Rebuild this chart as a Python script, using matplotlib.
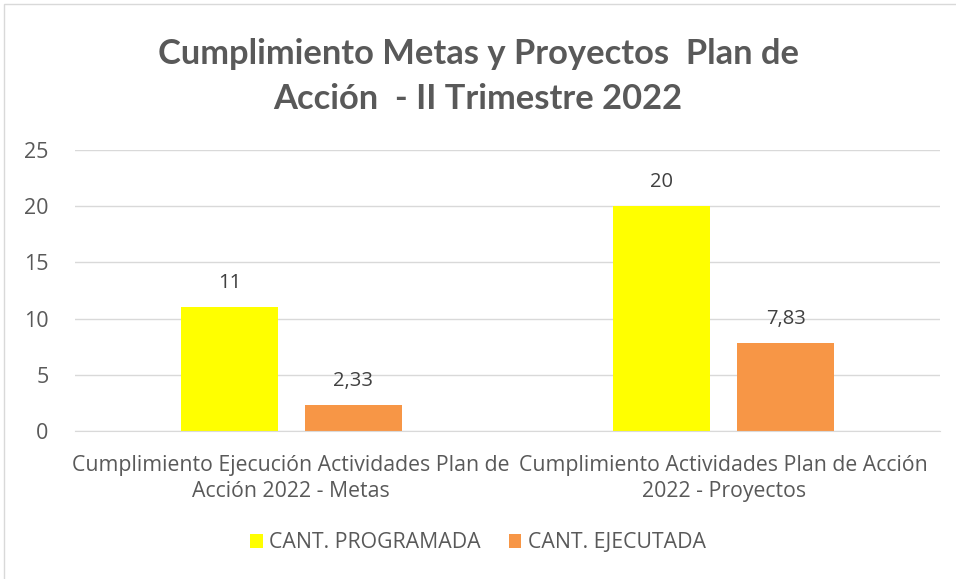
import matplotlib
matplotlib.use("Agg")
import matplotlib.pyplot as plt
import numpy as np

# datos del grafico
categorias = ['Cumplimiento Ejecución Actividades Plan de\nAcción 2022 - Metas',
              'Cumplimiento Actividades Plan de Acción\n2022 - Proyectos']
programada = [11, 20]
ejecutada = [2.33, 7.83]
etiquetas_prog = ['11', '20']
etiquetas_ejec = ['2,33', '7,83']
series = ['CANT. PROGRAMADA', 'CANT. EJECUTADA']
yticks = [0, 5, 10, 15, 20, 25]

gris = '#595959'
plt.rcParams['font.family'] = ['Open Sans', 'DejaVu Sans']

fig = plt.figure(figsize=(9.56, 5.79), dpi=100)
ax = fig.add_axes([75 / 956, 1 - 431 / 579, 865 / 956, 281 / 579])

x = np.arange(len(categorias))
w = 0.224
off = 0.143
b1 = ax.bar(x - off, programada, w, color='#FFFF00', label=series[0])
b2 = ax.bar(x + off, ejecutada, w, color='#F79646', label=series[1])

# etiquetas de valor encima de cada barra
for rect, txt in zip(b1, etiquetas_prog):
    ax.annotate(txt, (rect.get_x() + rect.get_width() / 2, rect.get_height()),
                xytext=(0, 10), textcoords='offset points', ha='center',
                va='bottom', fontsize=14.5, color='#404040')
for rect, txt in zip(b2, etiquetas_ejec):
    ax.annotate(txt, (rect.get_x() + rect.get_width() / 2, rect.get_height()),
                xytext=(0, 10), textcoords='offset points', ha='center',
                va='bottom', fontsize=14.5, color='#404040')

ax.set_xlim(-0.5, 1.5)
ax.set_ylim(0, 25)
ax.set_yticks(yticks)
ax.set_xticks(x)
ax.set_xticklabels(categorias, fontsize=15.3, color=gris, linespacing=1.32)
ax.tick_params(axis='y', labelsize=15.5, labelcolor=gris, length=0, pad=19)
ax.tick_params(axis='x', length=0, pad=17)
ax.grid(axis='y', color='#D9D9D9', linewidth=1)
ax.set_axisbelow(True)
for s in ['top', 'right', 'left']:
    ax.spines[s].set_visible(False)
ax.spines['bottom'].set_color('#D9D9D9')

fig.text(0.5, 1 - 54 / 579, 'Cumplimiento Metas y Proyectos  Plan de',
         ha='center', va='center', fontsize=24.8, fontweight='bold', color=gris,
         family=['Lato', 'DejaVu Sans'])
fig.text(0.5, 1 - 99 / 579, 'Acción  - II Trimestre 2022',
         ha='center', va='center', fontsize=24.8, fontweight='bold', color=gris,
         family=['Lato', 'DejaVu Sans'])

fig.legend(handles=[b1, b2], loc='center', bbox_to_anchor=(0.5, 1 - 543 / 579),
           ncol=2, frameon=False, fontsize=15.3, labelcolor=gris,
           handlelength=0.6, handleheight=0.6, columnspacing=1.3, handletextpad=0.3)

# borde del grafico
fig.patches.append(plt.Rectangle((4 / 956, -0.01), 1.0, 1 - 4 / 579 + 0.01,
                                 transform=fig.transFigure, fill=False,
                                 edgecolor='#D9D9D9', linewidth=1))

fig.savefig('out.png', dpi=100)
